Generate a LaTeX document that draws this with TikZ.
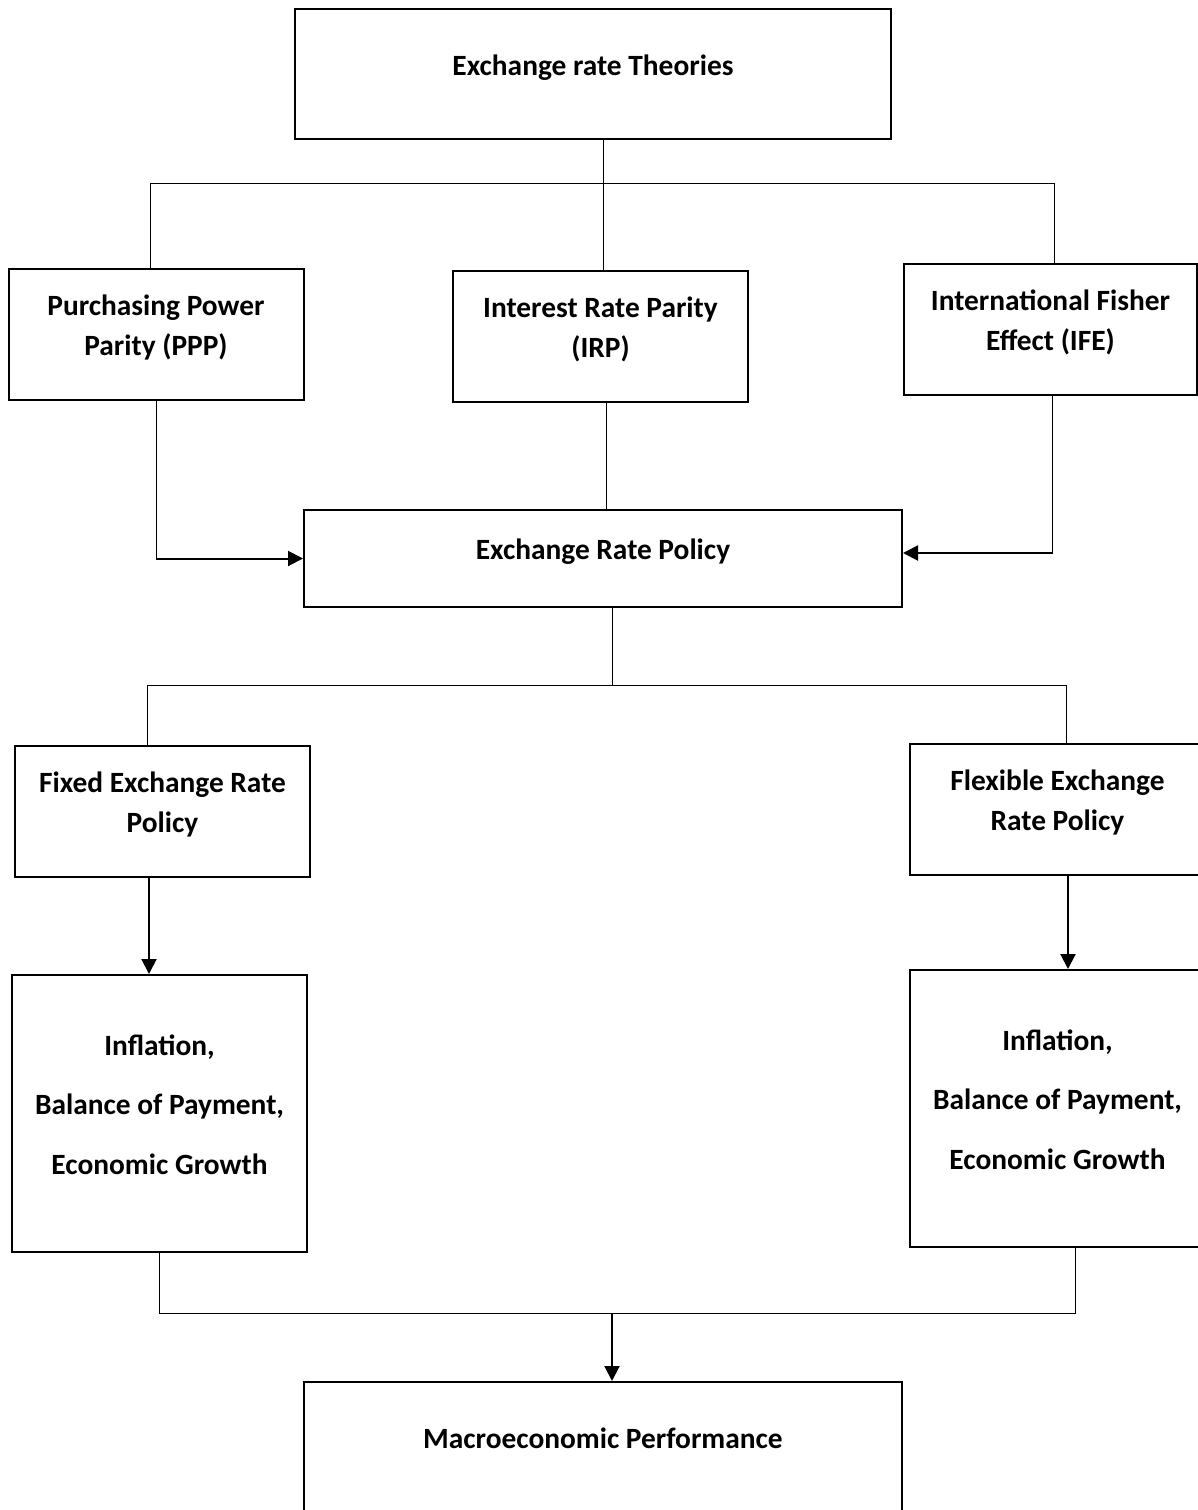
\documentclass[tikz,border=0pt]{standalone}
\usepackage{fontspec}
\setmainfont{Carlito}
\usetikzlibrary{arrows.meta, positioning}

\begin{document}
\begin{tikzpicture}[
    x=0.5pt, y=-0.5pt, font=\fontsize{14.7}{20}\selectfont\bfseries,
    box/.style={draw, line width=1pt, minimum width=147.5pt, minimum height=65.5pt,
                align=center, inner sep=0pt, text depth=9pt},
    widebox/.style={box, minimum width=299pt, minimum height=65pt},
    tallbox/.style={box, minimum height=138.5pt,
                font=\fontsize{14.7}{29.75}\selectfont\bfseries},
    conn/.style={line width=0.5pt},
    arr/.style={line width=1pt, -{Triangle[length=7.5pt, width=7.5pt]}}
]
\useasboundingbox (0,0) rectangle (1198,1510);

\node[widebox, minimum width=298pt] (theo) at (593,74) {Exchange rate Theories};
\node[box] (ppp) at (156,334.5) {Purchasing Power\\Parity (PPP)};
\node[box] (irp) at (600.5,336.5) {Interest Rate Parity\\(IRP)};
\node[box, minimum width=146.5pt] (ife) at (1050.5,329.5) {International Fisher\\Effect (IFE)};
\node[widebox, minimum height=48.5pt] (erp) at (603,558.5) {Exchange Rate Policy};
\node[box] (fix) at (162.5,811.5) {Fixed Exchange Rate\\Policy};
\node[box] (flx) at (1057.5,809.5) {Flexible Exchange\\Rate Policy};
\node[tallbox] (effL) at (159.5,1113.5) {Inflation,\\Balance of Payment,\\Economic Growth};
\node[tallbox] (effR) at (1057.5,1108.5) {Inflation,\\Balance of Payment,\\Economic Growth};
\node[widebox] (macro) at (603,1447) {Macroeconomic Performance};

% theories
\coordinate (topbus) at (603,183);
\path (ppp.north) ++(-6,0) coordinate (ppptop);
\path (ife.north) ++(3.5,0) coordinate (ifetop);
\draw[conn] (theo.south -| topbus) -- (topbus);
\draw[conn] (ppptop) |- (ifetop |- topbus) -- (ifetop);
\draw[conn] (topbus) -- (topbus |- irp.north);

% into the policy box
\coordinate (pppbend) at (ppp.south |- erp.west);
\draw[conn] (ppp.south) -- (pppbend);
\draw[arr] (pppbend) -- (erp.west);
\path (irp.south) ++(6,0) coordinate (irpdrop);
\draw[conn] (irpdrop) -- (irpdrop |- erp.north);
\path (ife.south |- erp.east) ++(2,-5.5) coordinate (ifebend);
\draw[conn] (ife.south -| ifebend) -- (ifebend);
\draw[arr] (ifebend) -- (ifebend -| erp.east);

% policies
\coordinate (midbus) at (612,685);
\path (fix.north) ++(-15.5,0) coordinate (fixtop);
\path (flx.north) ++(8.5,0) coordinate (flxtop);
\draw[conn] (erp.south -| midbus) -- (midbus);
\draw[conn] (fixtop) |- (flxtop |- midbus) -- (flxtop);
\path (fix.south) ++(-13.5,0) coordinate (fixdrop);
\path (flx.south) ++(10.5,0) coordinate (flxdrop);
\draw[arr] (fixdrop) -- (fixdrop |- effL.north);
\draw[arr] (flxdrop) -- (flxdrop |- effR.north);

% outcome
\coordinate (lowbus) at (612,1313);
\path (effR.south) ++(17.5,0) coordinate (effRdrop);
\draw[conn] (effL.south) |- (effRdrop |- lowbus) -- (effRdrop);
\draw[arr] (lowbus) -- (lowbus |- macro.north);
\end{tikzpicture}
\end{document}
